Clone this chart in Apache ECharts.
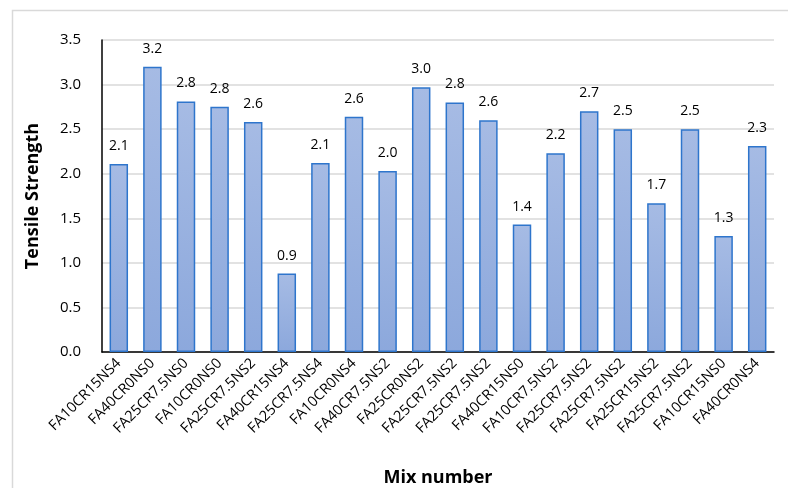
<!DOCTYPE html>
<html>
<head>
<meta charset="utf-8">
<script src="https://cdn.jsdelivr.net/npm/echarts@6/dist/echarts.min.js"></script>
<style>
  html, body { margin: 0; padding: 0; background: #ffffff; }
  #chart { width: 788px; height: 488px; }
</style>
</head>
<body>
<div id="chart"></div>
<script>
// Mix designs along the x axis
const mixes = [
  'FA10CR15NS4', 'FA40CR0NS0', 'FA25CR7.5NS0', 'FA10CR0NS0', 'FA25CR7.5NS2',
  'FA40CR15NS4', 'FA25CR7.5NS4', 'FA10CR0NS4', 'FA40CR7.5NS2', 'FA25CR0NS2',
  'FA25CR7.5NS2', 'FA25CR7.5NS2', 'FA40CR15NS0', 'FA10CR7.5NS2', 'FA25CR7.5NS2',
  'FA25CR7.5NS2', 'FA25CR15NS2', 'FA25CR7.5NS2', 'FA10CR15NS0', 'FA40CR0NS4'
];

// Tensile strength for each mix
const tensile = [
  2.11, 3.20, 2.81, 2.75, 2.58,
  0.88, 2.12, 2.64, 2.03, 2.97,
  2.80, 2.60, 1.43, 2.23, 2.70,
  2.50, 1.67, 2.50, 1.30, 2.31
];

const yTicks = [0, 0.5, 1.0, 1.5, 2.0, 2.5, 3.0, 3.5];

const font = '"Open Sans", Lato, sans-serif';
const chart = echarts.init(document.getElementById('chart'), null, { renderer: 'canvas' });

chart.setOption({
  backgroundColor: '#ffffff',
  animation: false,
  graphic: [{
    type: 'rect',
    shape: { x: 12.5, y: 10.5, width: 900, height: 600 },
    style: { fill: 'none', stroke: '#d9d9d9', lineWidth: 1.5 },
    silent: true
  }],
  grid: { left: 102, right: 14, top: 40, bottom: 136, outerBoundsMode: 'none' },
  xAxis: {
    type: 'category',
    data: mixes,
    name: 'Mix number',
    nameLocation: 'middle',
    nameGap: 117,
    nameTextStyle: { fontFamily: font, fontSize: 18, fontWeight: 'bold', color: '#000' },
    axisLine: { lineStyle: { color: '#000', width: 1.5 } },
    axisTick: { show: false },
    axisLabel: {
      interval: 0, rotate: 45, margin: 9,
      fontFamily: font, fontSize: 14.5, color: '#000'
    }
  },
  yAxis: {
    type: 'value',
    min: yTicks[0],
    max: yTicks[yTicks.length - 1],
    interval: 0.5,
    name: 'Tensile Strength',
    nameLocation: 'middle',
    nameGap: 60,
    nameTextStyle: { fontFamily: font, fontSize: 18, fontWeight: 'bold', color: '#000' },
    axisLine: { show: true, lineStyle: { color: '#000', width: 1.5 } },
    axisTick: { show: false },
    axisLabel: {
      margin: 21, fontFamily: font, fontSize: 15, color: '#000',
      formatter: v => v.toFixed(1)
    },
    splitLine: { lineStyle: { color: '#d9d9d9', width: 1.5 } }
  },
  series: [{
    type: 'bar',
    data: tensile,
    barWidth: '55%',
    itemStyle: {
      color: new echarts.graphic.LinearGradient(0, 0, 0, 1, [
        { offset: 0, color: '#a6bbe4' },
        { offset: 1, color: '#8ca8dc' }
      ]),
      borderColor: '#2e75cc',
      borderWidth: 1.5
    },
    label: {
      show: true,
      position: 'top',
      distance: 11,
      fontFamily: font,
      fontSize: 14,
      color: '#000',
      formatter: p => p.value.toFixed(1)
    }
  }]
});
</script>
</body>
</html>
